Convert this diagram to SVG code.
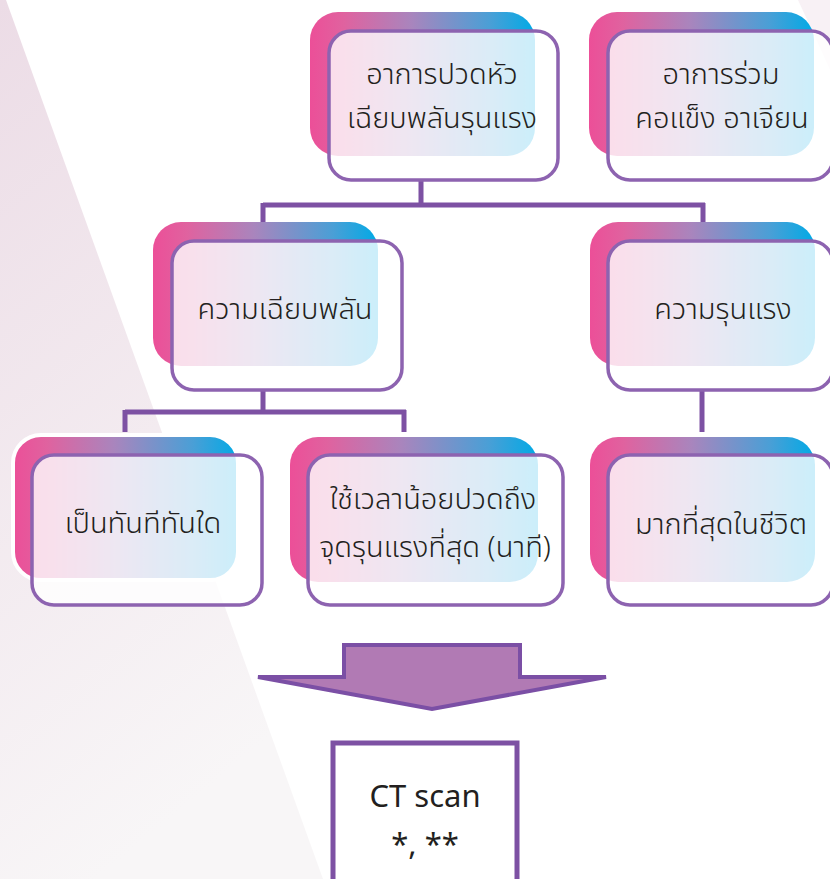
<svg xmlns="http://www.w3.org/2000/svg" width="830" height="879" viewBox="0 0 830 879">
<defs>
<linearGradient id="bg" x1="0" y1="0" x2="0.3" y2="1">
<stop offset="0" stop-color="#ecdce6"/>
<stop offset="1" stop-color="#f8f6f7"/>
</linearGradient>
<linearGradient id="back" x1="0" y1="0" x2="1" y2="0">
<stop offset="0" stop-color="#ec4f98"/>
<stop offset="0.15" stop-color="#e0629f"/>
<stop offset="0.45" stop-color="#a985bd"/>
<stop offset="0.8" stop-color="#4a9fd6"/>
<stop offset="1" stop-color="#00aae6"/>
</linearGradient>
<style>
.back{fill:url(#back);}
.front{fill:#ffffff;fill-opacity:0.8;stroke:#8d63b0;stroke-width:3.5;}
.conn{fill:none;stroke:#7d51a3;stroke-width:5;stroke-linecap:butt;}
.th{font-family:"Noto Sans Thai","Noto Sans","DejaVu Sans",sans-serif;font-size:29px;font-weight:300;fill:#231f20;text-anchor:middle;}
.en{font-family:"Noto Sans","Open Sans",sans-serif;font-size:31px;fill:#231f20;text-anchor:middle;}
</style>
</defs>
<rect x="0" y="0" width="830" height="879" fill="#ffffff"/>
<polygon points="0,0 6,0 323,879 0,879" fill="url(#bg)"/>
<path d="M798,0 L830,0 L830,70 Q812,30 798,0 Z" fill="#f8f1f5"/>

<g id="connectors">
<path class="conn" d="M421,180 V205 M263,205 H705 M263,203 V222 M703,203 V222"/>
<path class="conn" d="M263,390 V412 M125,412 H406 M125,410 V432 M404,410 V432"/>
<path class="conn" d="M702,390 V432"/>
</g>

<g id="node-headache">
<rect class="back" x="310" y="12" width="225" height="144" rx="28"/>
<rect class="front" x="329" y="31" width="229" height="149" rx="22"/>
<text class="th" x="442" y="84">อาการปวดหัว</text>
<text class="th" x="442" y="128">เฉียบพลันรุนแรง</text>
</g>

<g id="node-symptoms">
<rect class="back" x="589" y="12" width="225" height="144" rx="28"/>
<rect class="front" x="608" y="31" width="225" height="149" rx="22"/>
<text class="th" x="721" y="84">อาการร่วม</text>
<text class="th" x="722" y="128">คอแข็ง อาเจียน</text>
</g>

<g id="node-acute">
<rect class="back" x="153" y="222" width="225" height="144" rx="28"/>
<rect class="front" x="172" y="241" width="230" height="149" rx="22"/>
<text class="th" x="285" y="319">ความเฉียบพลัน</text>
</g>

<g id="node-severity">
<rect class="back" x="590" y="222" width="225" height="144" rx="28"/>
<rect class="front" x="608" y="241" width="225" height="149" rx="22"/>
<text class="th" x="723" y="319">ความรุนแรง</text>
</g>

<g id="node-sudden">
<rect class="back" x="13" y="435" width="225" height="145" rx="28" stroke="#ffffff" stroke-width="4"/>
<rect class="front" x="32" y="455" width="230" height="150" rx="22"/>
<text class="th" x="143" y="533">เป็นทันทีทันใด</text>
</g>

<g id="node-time">
<rect class="back" x="290" y="437" width="248" height="145" rx="28"/>
<rect class="front" x="308" y="455" width="255" height="150" rx="22"/>
<text class="th" x="433" y="509">ใช้เวลาน้อยปวดถึง</text>
<text class="th" x="435" y="557">จุดรุนแรงที่สุด (นาที)</text>
</g>

<g id="node-worst">
<rect class="back" x="590" y="437" width="225" height="145" rx="28"/>
<rect class="front" x="608" y="455" width="225" height="150" rx="22"/>
<text class="th" x="721" y="534">มากที่สุดในชีวิต</text>
</g>

<g id="node-arrow">
<polygon points="344,645 520,645 520,677 606,677 432,709 258,677 344,677" fill="#b17ab4" stroke="#7b4fa5" stroke-width="4" stroke-linejoin="miter"/>
</g>

<g id="node-ct">
<rect x="333" y="743" width="184" height="150" fill="#ffffff" stroke="#7d51a3" stroke-width="5"/>
<text class="en" x="425" y="807">CT scan</text>
<text class="en" x="425" y="855">*, **</text>
</g>
</svg>
